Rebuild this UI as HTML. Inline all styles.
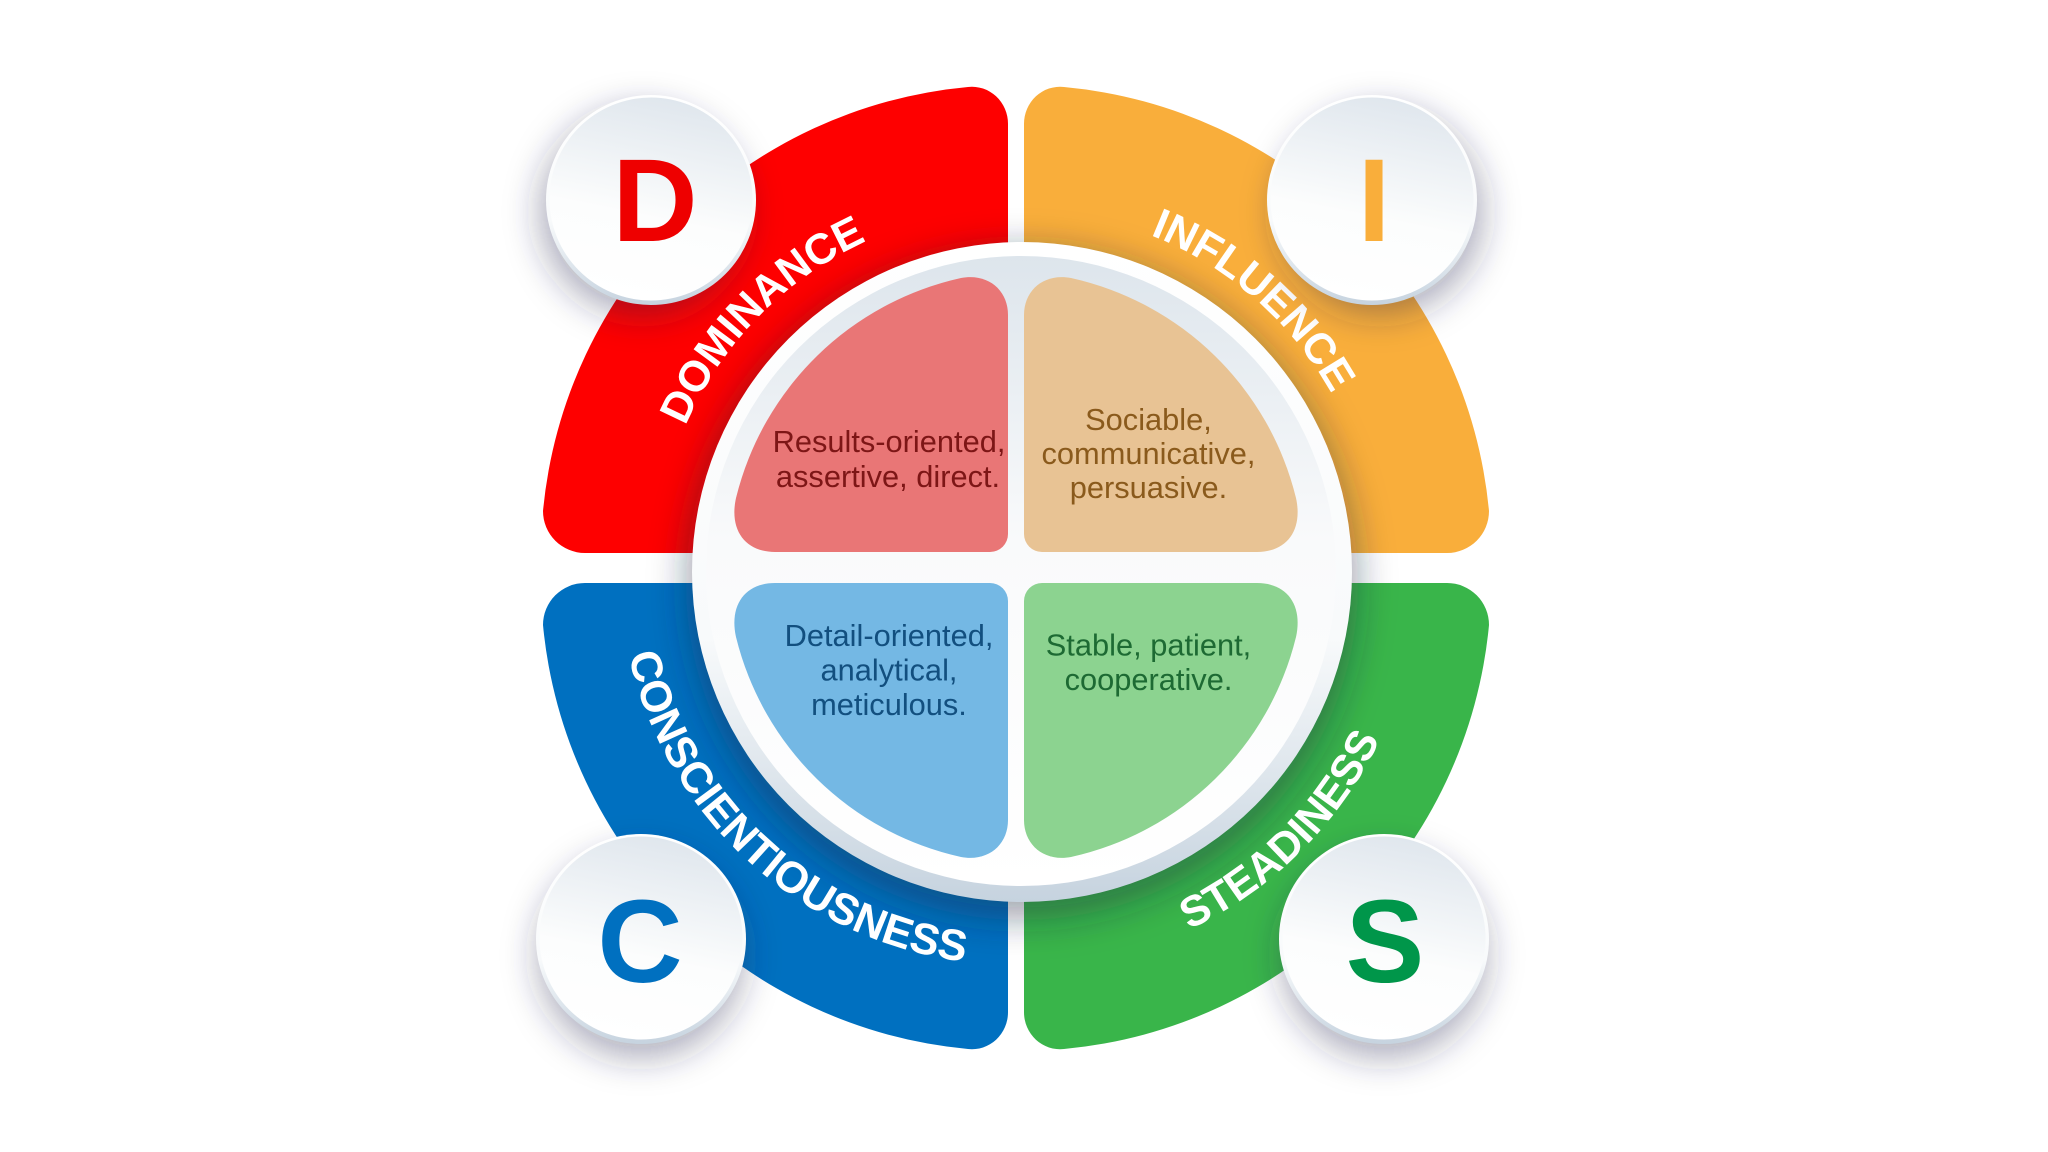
<!DOCTYPE html>
<html><head><meta charset="utf-8"><style>
html,body{margin:0;padding:0;background:#fff;width:2048px;height:1152px;overflow:hidden}
svg{display:block}
text{font-family:"Liberation Sans",Arial,sans-serif}
.lab{font-weight:700;font-size:43px;fill:#fff;text-anchor:middle}
.big{font-weight:700;font-size:118px;text-anchor:middle}
.b{font-size:30.8px;text-anchor:middle}
</style></head><body>
<svg width="2048" height="1152" viewBox="0 0 2048 1152" xmlns="http://www.w3.org/2000/svg">
<defs>
<filter id="bl" x="-30%" y="-30%" width="160%" height="160%"><feGaussianBlur stdDeviation="18"/></filter>
<filter id="bs" x="-40%" y="-40%" width="180%" height="180%"><feGaussianBlur stdDeviation="17"/></filter>
<linearGradient id="rim" x1="0" y1="0" x2="0" y2="1"><stop offset="0" stop-color="#ffffff"/><stop offset=".6" stop-color="#f8fafb"/><stop offset="1" stop-color="#c6d3df"/></linearGradient>
<linearGradient id="face" x1="0" y1="0" x2="0" y2="1"><stop offset="0" stop-color="#dde5ec"/><stop offset=".45" stop-color="#f9fafb"/><stop offset="1" stop-color="#ffffff"/></linearGradient>
<linearGradient id="bface" x1=".65" y1="0" x2=".45" y2="1"><stop offset="0" stop-color="#dfe6ed"/><stop offset=".6" stop-color="#fcfdfd"/><stop offset="1" stop-color="#ffffff"/></linearGradient>
<path id="top" d="M658 568A358 358 0 0 1 1374 568"/>
<path id="botC" d="M619 568A397 397 0 0 0 1413 568"/>
<path id="botS" d="M615 568A401 401 0 0 0 1417 568"/>
<path id="o" d="M1008 124A36 37 0 0 0 968 87A470 470 0 0 0 543 511A42 42 0 0 0 585 553L1008 553Z"/>
<path id="p" d="M1008 315C1008 290 988 273 961 278A298 298 0 0 0 736 498C729 530 745 552 775 552L990 552A18 18 0 0 0 1008 534Z"/>
</defs>
<rect width="2048" height="1152" fill="#fff"/>

<use href="#o" fill="#fe0000"/>
<use href="#o" fill="#f9ae3b" transform="translate(2032,0) scale(-1,1)"/>
<use href="#o" fill="#0070c0" transform="translate(0,1136) scale(1,-1)"/>
<use href="#o" fill="#39b54a" transform="translate(2032,1136) scale(-1,-1)"/>

<!-- centre disc shadow -->
<circle cx="1022" cy="584" r="336" fill="#1a2040" fill-opacity=".4" filter="url(#bl)"/>
<!-- centre disc -->
<circle cx="1022" cy="572" r="330" fill="url(#rim)"/>
<circle cx="1021" cy="571" r="315" fill="url(#face)"/>

<use href="#p" fill="#e97676"/>
<use href="#p" fill="#e8c394" transform="translate(2032,0) scale(-1,1)"/>
<use href="#p" fill="#74b8e4" transform="translate(0,1135) scale(1,-1)"/>
<use href="#p" fill="#8cd390" transform="translate(2032,1135) scale(-1,-1)"/>

<!-- arc labels -->
<g transform="translate(-1.5,-1) rotate(-45.6 1016 568)"><text class="lab"><textPath href="#top" startOffset="50%">DOMINANCE</textPath></text></g>
<g transform="translate(3,0) rotate(41.2 1016 568)"><text class="lab"><textPath href="#top" startOffset="50%">INFLUENCE</textPath></text></g>
<g transform="rotate(42.4 1016 568)"><text class="lab" style="font-size:43.8px"><textPath href="#botC" startOffset="50%">CONSCIENTIOUSNESS</textPath></text></g>
<g transform="translate(2,-1) rotate(-44.9 1016 568)"><text class="lab"><textPath href="#botS" startOffset="50%">STEADINESS</textPath></text></g>

<!-- body text -->
<g fill="#7d1616"><text class="b" x="889" y="452">Results-oriented,</text><text class="b" x="888" y="487">assertive, direct.</text></g>
<g fill="#8a5a1c"><text class="b" x="1148.5" y="430">Sociable,</text><text class="b" x="1148.5" y="464">communicative,</text><text class="b" x="1148.5" y="498">persuasive.</text></g>
<g fill="#124f7f"><text class="b" x="889" y="646">Detail-oriented,</text><text class="b" x="889" y="680.5">analytical,</text><text class="b" x="889" y="715">meticulous.</text></g>
<g fill="#1d6a33"><text class="b" x="1148.5" y="655.7">Stable, patient,</text><text class="b" x="1148.5" y="690">cooperative.</text></g>

<!-- badges -->
<circle cx="643" cy="212" r="104" fill="#23264f" fill-opacity=".36" filter="url(#bs)"/>
<circle cx="651" cy="200" r="105" fill="url(#rim)"/>
<circle cx="651" cy="199" r="101.5" fill="url(#bface)"/>
<text class="big" x="655" y="241" fill="#ee0000">D</text>

<circle cx="1380" cy="212" r="104" fill="#23264f" fill-opacity=".36" filter="url(#bs)"/>
<circle cx="1372" cy="200" r="105" fill="url(#rim)"/>
<circle cx="1372" cy="199" r="101.5" fill="url(#bface)"/>
<text class="big" x="1374" y="241" fill="#f9ae3b">I</text>

<circle cx="641" cy="955" r="104" fill="#23264f" fill-opacity=".36" filter="url(#bs)"/>
<circle cx="641" cy="939" r="105" fill="url(#rim)"/>
<circle cx="641" cy="938" r="101.5" fill="url(#bface)"/>
<text class="big" x="640" y="982" fill="#0070c0">C</text>

<circle cx="1384" cy="955" r="104" fill="#23264f" fill-opacity=".36" filter="url(#bs)"/>
<circle cx="1384" cy="939" r="105" fill="url(#rim)"/>
<circle cx="1384" cy="938" r="101.5" fill="url(#bface)"/>
<text class="big" x="1385" y="982" fill="#00964a">S</text>
</svg>
</body></html>
